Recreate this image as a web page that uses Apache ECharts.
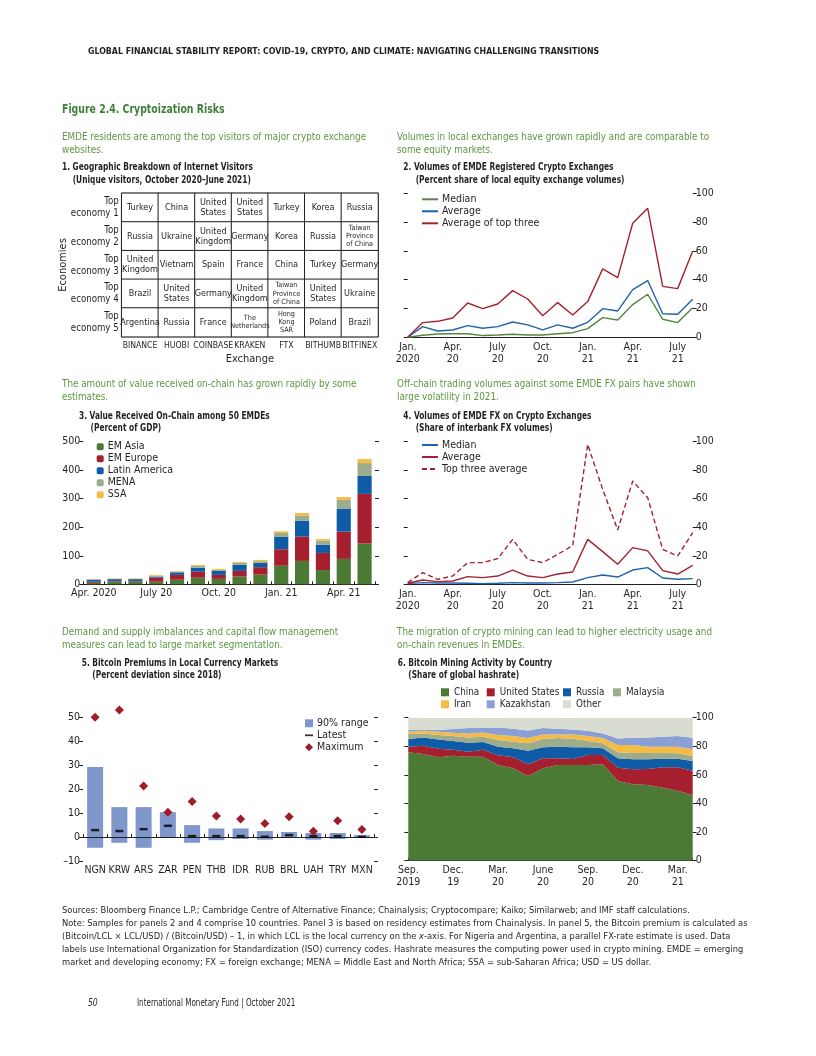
<!DOCTYPE html>
<html><head><meta charset="utf-8">
<script src="https://cdn.jsdelivr.net/npm/echarts@6/dist/echarts.min.js"></script>
<style>html,body{margin:0;padding:0;background:#fff}#c{width:816px;height:1056px}</style>
</head><body><div id="c"></div>
<script>
// ---------- Panel 1 data ----------
const exchanges = ['BINANCE','HUOBI','COINBASE','KRAKEN','FTX','BITHUMB','BITFINEX'];
const rankLabels = ['Top\neconomy 1','Top\neconomy 2','Top\neconomy 3','Top\neconomy 4','Top\neconomy 5'];
const topBINANCE  = ['Turkey','Russia','United\nKingdom','Brazil','Argentina'];
const topHUOBI    = ['China','Ukraine','Vietnam','United\nStates','Russia'];
const topCOINBASE = ['United\nStates','United\nKingdom','Spain','Germany','France'];
const topKRAKEN   = ['United\nStates','Germany','France','United\nKingdom','The\nNetherlands'];
const topFTX      = ['Turkey','Korea','China','Taiwan\nProvince\nof China','Hong\nKong\nSAR'];
const topBITHUMB  = ['Korea','Russia','Turkey','United\nStates','Poland'];
const topBITFINEX = ['Russia','Taiwan\nProvince\nof China','Germany','Ukraine','Brazil'];

// ---------- Panel 2 data ----------
const months2020 = ['Jan.\n2020','Feb.\n20','Mar.\n20','Apr.\n20','May\n20','June\n20','July\n20','Aug.\n20','Sep.\n20','Oct.\n20','Nov.\n20','Dec.\n20','Jan.\n21','Feb.\n21','Mar.\n21','Apr.\n21','May\n21','June\n21','July\n21','Aug.\n21'];
const p2Median = [0,1.4,2.3,2.5,2.5,1.2,1.6,2.1,1.6,1.6,2.5,3.2,6.0,13.7,12.0,22.7,29.9,12.5,10.2,20.6];
const p2Average = [0,7.4,4.4,5.1,8.1,6.3,7.4,10.6,8.6,5.1,8.6,6.3,10.4,19.9,18.3,33.1,39.4,16.4,16.0,26.4];
const p2TopThree = [0,10.2,11.1,13.4,23.8,19.9,23.1,32.4,26.6,15.0,24.1,15.5,24.8,47.5,41.4,79.2,89.6,35.4,33.8,60.0];

// ---------- Panel 3 data ----------
const months3 = ['Apr. 2020','May 20','June 20','July 20','Aug. 20','Sep. 20','Oct. 20','Nov. 20','Dec. 20','Jan. 21','Feb. 21','Mar. 21','Apr. 21','May 21'];
const emAsia   = [5,9,9,9,16,23,19,27,34,65,82,50,89,143];
const emEurope = [4,2,2,14,17,21,14,20,26,58,85,60,96,174];
const latAm    = [7,7,7,4,9,14,14,22,15,43,56,29,79,63];
const mena     = [1.5,1.5,1.5,3,2.5,6,3.5,6,6,14,18,14,32,45];
const ssa      = [1.5,1.5,1.5,3,2,3.5,3.5,3.5,4.5,6,9,6,10,14];

// ---------- Panel 4 data ----------
const p4Median = [0.5,1.2,0.9,0.9,0.7,0.5,0.7,1.2,0.9,0.9,1.2,1.6,4.7,6.5,5.1,10.0,11.7,4.4,3.5,4.0];
const p4Average = [0.7,3.0,1.9,2.3,5.4,4.7,5.8,10.0,5.8,4.7,7.2,8.6,31.5,22.9,14.0,25.7,23.4,9.6,7.2,13.3];
const p4TopThree = [1.2,8.2,3.5,5.8,15.2,15.2,18.0,31.5,17.5,15.2,21.0,27.1,98.1,66.6,38.1,72.4,60.7,24.5,19.9,36.2];

// ---------- Panel 5 data ----------
const currencies = ['NGN','KRW','ARS','ZAR','PEN','THB','IDR','RUB','BRL','UAH','TRY','MXN'];
const rangeLow  = [-4.5,-2.4,-4.5,0,-2.4,-1.3,-0.8,-1.1,0,-1.1,-0.8,0];
const rangeHigh = [29.2,12.5,12.5,10.4,5.0,3.6,3.6,2.5,2.1,1.7,1.7,0.8];
const latest    = [2.9,2.5,3.3,4.7,0.4,0.4,0.4,0.1,0.8,0.4,0.4,0.1];
const maximum   = [50.0,53.0,21.3,10.4,14.8,8.8,7.5,5.7,8.5,2.4,6.8,3.2];

// ---------- Panel 6 data ----------
const months6 = ['Sep.\n2019','Oct.\n19','Nov.\n19','Dec.\n19','Jan.\n20','Feb.\n20','Mar.\n20','Apr.\n20','May\n20','June\n20','July\n20','Aug.\n20','Sep.\n20','Oct.\n20','Nov.\n20','Dec.\n20','Jan.\n21','Feb.\n21','Mar.\n21','Apr.\n21'];
const hashChina = [75.8,74.6,72.3,73.4,72.7,72.7,66.9,64.6,59.2,64.6,66.9,66.9,66.9,67.4,55.7,53.4,52.9,51.0,49.0,45.9];
const hashUS    = [3.9,5.8,6.0,4.2,3.5,4.9,6.8,7.7,8.2,7.0,4.7,4.2,7.0,6.5,9.3,10.5,11.2,14.3,16.3,17.0];
const hashRussia= [5.4,5.8,6.5,6.1,6.3,5.4,6.0,6.3,9.5,7.7,8.1,8.2,5.4,4.7,6.6,7.0,6.8,6.0,6.0,6.8];
const hashMalaysia=[3.5,2.8,3.1,3.5,3.7,3.7,4.7,4.6,5.2,5.8,6.1,6.0,4.4,3.5,4.2,4.4,4.4,4.0,3.8,3.5];
const hashIran  = [1.6,1.9,2.3,2.3,2.8,3.0,3.5,4.0,3.7,3.2,2.5,3.0,3.5,3.7,5.1,5.6,4.4,4.4,4.6,4.7];
const hashKaz   = [1.2,0.9,1.2,2.6,3.8,3.1,5.3,5.1,5.3,4.5,4.0,3.5,3.7,3.2,4.6,5.1,6.5,7.0,7.5,8.1];
const hashOther = [8.6,8.2,8.6,7.9,7.2,7.2,6.8,7.7,8.9,7.2,7.7,8.2,9.1,11.0,14.5,14.0,13.8,13.3,12.8,14.0];

// ---------- styling ----------
const NF = "'Liberation Sans Narrow','Arial Narrow','DejaVu Sans Condensed',sans-serif";
const TXT = '#231f20';
const GREEN_T = '#3f7f38', GREEN_I = '#5c9742';
const C_GREEN = '#4b7a35', C_RED = '#a51f2e', C_BLUE = '#0f5ca6', C_MENA = '#9dac8c', C_SSA = '#f4bc44', C_KAZ = '#8aa0d5', C_OTHER = '#d9dcd0';
const L_GREEN = '#55853f', L_BLUE = '#1f63ad', L_RED = '#a3222f';

function T(x, y, text, o, sx) {
  return { type: 'text', x: x, y: y, silent: true, z: 100, scaleX: sx || 1,
    style: Object.assign({ text: text, fontFamily: NF, fontSize: 10, fill: TXT, verticalAlign: 'middle', align: 'left' }, o || {}) };
}
const INTRO = { fontSize: 11, fill: GREEN_I };
const PT = { fontSize: 10.5, fontWeight: 'bold' };
function valAxis(gridIndex, position, min, max, interval, labels, fmt) {
  return { type: 'value', gridIndex, position, min, max, interval,
    axisLine: { show: false }, splitLine: { show: false },
    axisTick: { show: true, length: 4, lineStyle: { color: TXT, width: 1 } },
    axisLabel: { show: labels, color: TXT, fontFamily: NF, fontSize: 10.5, margin: 3, formatter: fmt } };
}
function catAxis(gridIndex, data, extra) {
  return Object.assign({ type: 'category', gridIndex, data, boundaryGap: false,
    axisLine: { lineStyle: { color: TXT, width: 1 } }, axisTick: { show: false },
    axisLabel: { interval: 2, color: TXT, fontFamily: NF, fontSize: 10.5, lineHeight: 12, margin: 4 } }, extra || {});
}
function lineS(name, data, xi, yi, color, dashed) {
  return { type: 'line', name, data, xAxisIndex: xi, yAxisIndex: yi, symbol: 'none', silent: true,
    lineStyle: { color, width: 1.4, type: dashed ? [5, 3] : 'solid' }, itemStyle: { color } };
}
function legendBox(left, top, data, w, h, extra) {
  return Object.assign({ left, top, orient: 'vertical', padding: 0, itemGap: 0, itemWidth: w, itemHeight: h,
    selectedMode: false, data, textStyle: { fontFamily: NF, fontSize: 10.5, color: TXT, lineHeight: 12, padding: [0, 0, 0, -1] } }, extra || {});
}
const LINE_LEG = { itemStyle: { opacity: 0 } };
const LEG6 = { textStyle: { fontFamily: NF, fontSize: 9.8, color: TXT, lineHeight: 12 } };

// Panel 1 cells
const cols = [topBINANCE, topHUOBI, topCOINBASE, topKRAKEN, topFTX, topBITHUMB, topBITFINEX];
const cells = [];
cols.forEach((col, c) => col.forEach((nm, r) => {
  const lines = nm.split('\n').length;
  const small = lines >= 3 || nm.indexOf('Netherlands') >= 0;
  cells.push({ name: nm, value: [c, r, 1], label: small ? { fontSize: 7.2, lineHeight: 8.2 } : { fontSize: 9, lineHeight: 10 } });
}));

const rangeSpan = rangeHigh.map((h, i) => +(h - rangeLow[i]).toFixed(2));

const option = {
  animation: false,
  backgroundColor: '#fff',
  grid: [
    { left: 121.7, top: 193.3, width: 256.3, height: 143.4, show: true, borderColor: TXT, borderWidth: 1.3 },
    { left: 407.7, top: 193.3, width: 285, height: 144 },
    { left: 83.3, top: 441.7, width: 291.7, height: 142.6 },
    { left: 407.7, top: 441.7, width: 285, height: 142.6 },
    { left: 83, top: 717.3, width: 291, height: 143.7 },
    { left: 408.3, top: 717.7, width: 284.4, height: 143 }
  ],
  xAxis: [
    { type: 'category', gridIndex: 0, data: exchanges, position: 'bottom', axisLine: { show: false }, axisTick: { show: false },
      axisLabel: { color: TXT, fontFamily: NF, fontSize: 8.6, margin: 5, interval: 0 },
      name: 'Exchange', nameLocation: 'middle', nameGap: 17, nameTextStyle: { color: TXT, fontFamily: NF, fontSize: 11 } },
    catAxis(1, months2020),
    catAxis(2, months3, { boundaryGap: true, axisTick: { show: true, inside: true, length: 3, interval: 0, lineStyle: { color: TXT } },
      axisLabel: { interval: 2, color: TXT, fontFamily: NF, fontSize: 10.5, margin: 3 } }),
    catAxis(3, months2020),
    catAxis(4, currencies, { boundaryGap: true, axisTick: { show: true, inside: true, length: 3, interval: 0, lineStyle: { color: TXT } },
      axisLabel: { interval: 0, color: TXT, fontFamily: NF, fontSize: 10.5, margin: 4 } }),
    catAxis(5, months6, { axisTick: { show: true, inside: true, length: 3, interval: 0, lineStyle: { color: TXT } } })
  ],
  yAxis: [
    { type: 'category', gridIndex: 0, data: rankLabels, inverse: true, axisLine: { show: false }, axisTick: { show: false },
      axisLabel: { color: TXT, fontFamily: NF, fontSize: 9.6, lineHeight: 12, margin: 3, align: 'right' },
      name: 'Economies', nameLocation: 'middle', nameRotate: 90, nameGap: 53, nameMoveOverlap: false,
      nameTextStyle: { color: TXT, fontFamily: NF, fontSize: 11 } },
    valAxis(1, 'right', 0, 100, 20, true),
    valAxis(1, 'left', 0, 100, 20, false),
    valAxis(2, 'left', 0, 500, 100, true),
    valAxis(2, 'right', 0, 500, 100, false),
    valAxis(3, 'right', 0, 100, 20, true),
    valAxis(3, 'left', 0, 100, 20, false),
    valAxis(4, 'left', -10, 50, 10, true, v => v < 0 ? '\u2013' + (-v) : v),
    valAxis(4, 'right', -10, 50, 10, false),
    valAxis(5, 'right', 0, 100, 20, true),
    valAxis(5, 'left', 0, 100, 20, false)
  ],
  legend: [
    legendBox(421, 193.3, ['Median', 'Average', 'Average of top three'], 16, 2, LINE_LEG),
    legendBox(96.7, 440.7, ['EM Asia', 'EM Europe', 'Latin America', 'MENA', 'SSA'], 7, 7),
    legendBox(421, 439, ['Median\u200B', 'Average\u200B', 'Top three average'], 16, 2, LINE_LEG),
    legendBox(305, 717.3, [
      { name: '90% range', icon: 'rect' },
      { name: 'Latest', icon: 'path://M0,0 L10,0 L10,2.2 L0,2.2 Z' },
      { name: 'Maximum', icon: 'diamond' }], 8, 8),
    legendBox(441, 686.3, [{ name: 'China', icon: 'rect' }, { name: 'Iran', icon: 'rect' }], 8, 8, LEG6),
    legendBox(486.7, 686.3, [{ name: 'United States', icon: 'rect' }, { name: 'Kazakhstan', icon: 'rect' }], 8, 8, LEG6),
    legendBox(563, 686.3, [{ name: 'Russia', icon: 'rect' }, { name: 'Other', icon: 'rect' }], 8, 8, LEG6),
    legendBox(613, 686.3, [{ name: 'Malaysia', icon: 'rect' }], 8, 8, LEG6)
  ],
  series: [
    // Panel 1
    { type: 'heatmap', xAxisIndex: 0, yAxisIndex: 0, data: cells, silent: true,
      itemStyle: { color: '#fff', borderColor: TXT, borderWidth: 1 },
      label: { show: true, formatter: '{b}', color: TXT, fontFamily: NF, fontSize: 9, lineHeight: 10 },
      emphasis: { disabled: true } },
    // Panel 2
    lineS('Median', p2Median, 1, 1, L_GREEN),
    lineS('Average', p2Average, 1, 1, L_BLUE),
    lineS('Average of top three', p2TopThree, 1, 1, L_RED),
    // Panel 3
    ...[['EM Asia', emAsia, C_GREEN], ['EM Europe', emEurope, C_RED], ['Latin America', latAm, C_BLUE], ['MENA', mena, C_MENA], ['SSA', ssa, C_SSA]]
      .map(([n, d, c]) => ({ type: 'bar', name: n, data: d, xAxisIndex: 2, yAxisIndex: 3, stack: 'p3', barWidth: '68%', silent: true, itemStyle: { color: c } })),
    // Panel 4
    lineS('Median\u200B', p4Median, 3, 5, L_BLUE),
    lineS('Average\u200B', p4Average, 3, 5, L_RED),
    lineS('Top three average', p4TopThree, 3, 5, L_RED, true),
    // Panel 5
    { type: 'bar', name: 'base5', data: rangeLow, xAxisIndex: 4, yAxisIndex: 7, stack: 'p5', stackStrategy: 'all', barWidth: '66%', silent: true,
      itemStyle: { color: 'rgba(0,0,0,0)' } },
    { type: 'bar', name: '90% range', data: rangeSpan, xAxisIndex: 4, yAxisIndex: 7, stack: 'p5', stackStrategy: 'all', barWidth: '66%', silent: true,
      itemStyle: { color: '#8097cc' },
      markLine: { silent: true, symbol: 'none', label: { show: false }, lineStyle: { color: TXT, width: 1.2, type: 'solid' }, data: [{ yAxis: 0 }] } },
    { type: 'scatter', name: 'Latest', data: latest, xAxisIndex: 4, yAxisIndex: 7, symbol: 'rect', symbolSize: [8, 2.5], silent: true, itemStyle: { color: '#000' }, z: 5 },
    { type: 'scatter', name: 'Maximum', data: maximum, xAxisIndex: 4, yAxisIndex: 7, symbol: 'diamond', symbolSize: 9, clip: false, silent: true, itemStyle: { color: '#a01c2c', opacity: 1 }, z: 5 },
    // Panel 6
    ...[['China', hashChina, C_GREEN], ['United States', hashUS, C_RED], ['Russia', hashRussia, C_BLUE], ['Malaysia', hashMalaysia, C_MENA],
        ['Iran', hashIran, C_SSA], ['Kazakhstan', hashKaz, C_KAZ], ['Other', hashOther, C_OTHER]]
      .map(([n, d, c]) => ({ type: 'line', name: n, data: d, xAxisIndex: 5, yAxisIndex: 9, stack: 'p6', symbol: 'none', silent: true,
        lineStyle: { width: 0, color: c }, itemStyle: { color: c }, areaStyle: { color: c, opacity: 1 } }))
  ],
  graphic: [
    T(88, 52, 'GLOBAL FINANCIAL STABILITY REPORT: COVID-19, CRYPTO, AND CLIMATE: NAVIGATING CHALLENGING TRANSITIONS', { fontSize: 9.5, fontWeight: 'bold' }, 0.92),
    T(62, 110, 'Figure 2.4. Cryptoization Risks', { fontSize: 13, fontWeight: 'bold', fill: GREEN_T }, 0.8),
    T(62, 137, 'EMDE residents are among the top visitors of major crypto exchange', INTRO, 0.89),
    T(62, 150, 'websites.', INTRO, 0.89),
    T(397, 137, 'Volumes in local exchanges have grown rapidly and are comparable to', INTRO, 0.89),
    T(397, 150, 'some equity markets.', INTRO, 0.89),
    T(62, 167.5, '1. Geographic Breakdown of Internet Visitors', PT, 0.79),
    T(72.7, 180.7, '(Unique visitors, October 2020\u2013June 2021)', PT, 0.79),
    T(403.3, 167.5, '2. Volumes of EMDE Registered Crypto Exchanges', PT, 0.79),
    T(415.7, 180.7, '(Percent share of local equity exchange volumes)', PT, 0.79),
    T(62, 384, 'The amount of value received on-chain has grown rapidly by some', INTRO, 0.89),
    T(62, 397, 'estimates.', INTRO, 0.89),
    T(397, 384, 'Off-chain trading volumes against some EMDE FX pairs have shown', INTRO, 0.89),
    T(397, 397, 'large volatility in 2021.', INTRO, 0.89),
    T(79, 416, '3. Value Received On-Chain among 50 EMDEs', PT, 0.79),
    T(90.5, 428.7, '(Percent of GDP)', PT, 0.79),
    T(403.3, 416, '4. Volumes of EMDE FX on Crypto Exchanges', PT, 0.79),
    T(415.7, 428.7, '(Share of interbank FX volumes)', PT, 0.79),
    T(62, 632, 'Demand and supply imbalances and capital flow management', INTRO, 0.89),
    T(62, 645, 'measures can lead to large market segmentation.', INTRO, 0.89),
    T(397, 632, 'The migration of crypto mining can lead to higher electricity usage and', INTRO, 0.89),
    T(397, 645, 'on-chain revenues in EMDEs.', INTRO, 0.89),
    T(81.7, 663.3, '5. Bitcoin Premiums in Local Currency Markets', PT, 0.79),
    T(92.3, 675.7, '(Percent deviation since 2018)', PT, 0.79),
    T(397.7, 663.3, '6. Bitcoin Mining Activity by Country', PT, 0.79),
    T(408.3, 675.7, '(Share of global hashrate)', PT, 0.79),
    T(62, 911, 'Sources: Bloomberg Finance L.P.; Cambridge Centre of Alternative Finance; Chainalysis; Cryptocompare; Kaiko; Similarweb; and IMF staff calculations.', { fontSize: 9.3 }),
    T(62, 924, 'Note: Samples for panels 2 and 4 comprise 10 countries. Panel 3 is based on residency estimates from Chainalysis. In panel 5, the Bitcoin premium is calculated as', { fontSize: 9.3 }),
    T(62, 937, '(Bitcoin/LCL \u00d7 LCL/USD) / (Bitcoin/USD) \u2013 1, in which LCL is the local currency on the {i|x}-axis. For Nigeria and Argentina, a parallel FX-rate estimate is used. Data',
      { fontSize: 9.3, rich: { i: { fontStyle: 'italic', fontSize: 9.3, fontFamily: NF, fill: TXT } } }),
    T(62, 950, 'labels use International Organization for Standardization (ISO) currency codes. Hashrate measures the computing power used in crypto mining. EMDE = emerging', { fontSize: 9.3 }),
    T(62, 963, 'market and developing economy; FX = foreign exchange; MENA = Middle East and North Africa; SSA = sub-Saharan Africa; USD = US dollar.', { fontSize: 9.3 }),
    T(88, 1003, '50', { fontSize: 10, fontStyle: 'italic' }, 0.85),
    T(137, 1003, 'International Monetary Fund | October 2021', { fontSize: 10 }, 0.8)
  ]
};
const chart = echarts.init(document.getElementById('c'), null, { renderer: 'canvas', width: 816, height: 1056 });
chart.setOption(option);
</script></body></html>
